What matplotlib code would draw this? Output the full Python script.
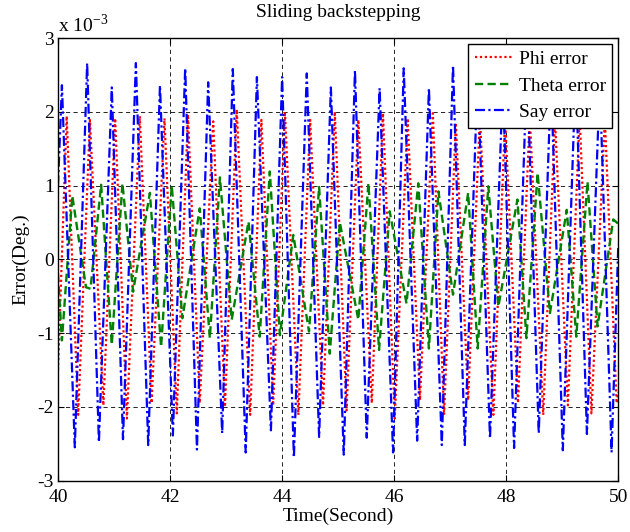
import numpy as np
import matplotlib
matplotlib.use("Agg")
import matplotlib.pyplot as plt
from matplotlib.ticker import FuncFormatter

plt.rcParams['font.family'] = ['Liberation Serif', 'DejaVu Serif']
plt.rcParams['mathtext.fontset'] = 'custom'
plt.rcParams['mathtext.rm'] = 'Liberation Serif'

# Turning points of each error signal (time in s, error in 1e-3 deg)
phi_t = [40.00, 40.155, 40.36, 40.57, 40.81, 41.02, 41.23, 41.46, 41.67, 41.90,
         42.12, 42.32, 42.53, 42.77, 42.98, 43.19, 43.43, 43.63, 43.84, 44.05,
         44.29, 44.50, 44.73, 44.94, 45.15, 45.36, 45.60, 45.80, 46.01, 46.24,
         46.46, 46.69, 46.89, 47.10, 47.32, 47.53, 47.77, 47.98, 48.21, 48.42,
         48.66, 48.87, 49.10, 49.31, 49.52, 49.76, 49.97, 50.00]
phi_v = [-1.50, 1.94, -2.11, 1.89, -1.98, 1.91, -2.16, 1.94, -1.95, 1.91,
         -2.09, 1.96, -1.95, 1.87, -2.00, 2.03, -2.11, 1.89, -1.98, 2.00,
         -2.11, 1.89, -1.98, 2.00, -2.05, 1.89, -1.95, 1.98, -2.16, 1.91,
         -1.91, 1.98, -2.11, 1.85, -1.91, 1.95, -2.11, 1.90, -1.95, 1.95,
         -2.11, 1.90, -1.98, 1.95, -2.09, 1.90, -1.95, -1.80]

theta_t = [40.00, 40.07, 40.255, 40.50, 40.58, 40.77, 40.96, 41.15, 41.34, 41.64,
           41.84, 42.03, 42.22, 42.53, 42.71, 42.89, 43.10, 43.40, 43.60, 43.78,
           43.96, 44.20, 44.48, 44.66, 44.85, 45.03, 45.36, 45.54, 45.73, 45.92,
           46.22, 46.43, 46.62, 46.79, 47.05, 47.32, 47.49, 47.68, 47.86, 48.20,
           48.36, 48.56, 48.78, 49.08, 49.25, 49.45, 49.63, 49.91, 50.00]
theta_v = [-0.20, -1.10, 0.86, -0.38, -0.40, 1.01, -1.16, 1.03, -0.44, 0.90,
           -1.19, 1.00, -0.80, 0.69, -1.07, 1.11, -0.82, 0.51, -1.05, 1.19,
           -1.03, 0.33, -0.98, 0.98, -1.28, 0.50, -0.82, 1.03, -1.23, 0.65,
           -0.60, 1.03, -1.21, 0.92, -0.48, 0.90, -1.21, 0.99, -0.64, 0.81,
           -1.07, 1.17, -0.73, 0.67, -1.05, 1.05, -0.91, 0.54, 0.48]

say_t = [40.00, 40.07, 40.30, 40.52, 40.73, 40.96, 41.16, 41.39, 41.61, 41.82,
         42.05, 42.27, 42.48, 42.68, 42.93, 43.12, 43.35, 43.55, 43.80, 44.00,
         44.21, 44.44, 44.66, 44.87, 45.10, 45.30, 45.51, 45.74, 45.98, 46.17,
         46.41, 46.62, 46.85, 47.05, 47.26, 47.49, 47.71, 47.94, 48.14, 48.37,
         48.58, 48.80, 49.01, 49.24, 49.44, 49.67, 49.88, 50.00]
say_v = [1.00, 2.36, -2.55, 2.66, -2.48, 2.33, -2.44, 2.66, -2.52, 2.36,
         -2.39, 2.59, -2.58, 2.40, -2.36, 2.58, -2.62, 2.47, -2.32, 2.47,
         -2.69, 2.52, -2.41, 2.33, -2.65, 2.56, -2.42, 2.32, -2.62, 2.59,
         -2.46, 2.32, -2.52, 2.63, -2.52, 2.50, -2.43, 2.40, -2.56, 2.60,
         -2.36, 2.45, -2.59, 2.55, -2.37, 2.40, -2.62, 0.20]

x_ticks = [40, 42, 44, 46, 48, 50]
y_ticks = [-3, -2, -1, 0, 1, 2, 3]
scale = 1e-3

fig = plt.figure(figsize=(6.3, 5.32), dpi=100)
ax = fig.add_axes([58 / 630, 1 - 480.5 / 532, (618.3 - 58) / 630, (480.5 - 38) / 532])

fs = 14
ax.plot(phi_t, np.array(phi_v) * scale, color=(1, 0, 0), lw=1.6,
        linestyle=(0, (1, 1.2)), label='Phi error')
ax.plot(theta_t, np.array(theta_v) * scale, color=(0, 0.5, 0), lw=1.7,
        linestyle=(0, (3.5, 1.8)), label='Theta error')
ax.plot(say_t, np.array(say_v) * scale, color=(0, 0, 1), lw=1.6,
        linestyle=(0, (4.5, 1.5, 1, 1.5)), label='Say error')

ax.set_xlim(40, 50)
ax.set_ylim(-3 * scale, 3 * scale)
ax.set_xticks(x_ticks)
ax.set_yticks([v * scale for v in y_ticks])
ax.yaxis.set_major_formatter(FuncFormatter(lambda v, p: f"{v / scale:.0f}"))
ax.tick_params(direction='in', length=4, width=0.8, labelsize=fs,
               top=True, right=True)
ax.tick_params(axis='x', pad=6)
ax.tick_params(axis='y', pad=3)

ax.grid(True, color='k', lw=0.6, linestyle=(0, (5, 4)))
for s in ax.spines.values():
    s.set_linewidth(1.0)
    s.set_color('k')

ax.set_title('Sliding backstepping', fontsize=fs, pad=15)
ax.set_xlabel('Time(Second)', fontsize=fs, labelpad=1)
ax.set_ylabel('Error(Deg.)', fontsize=fs, labelpad=6)
ax.text(0.0, 1.005, r'x 10$^{\mathregular{-3}}$', transform=ax.transAxes,
        fontsize=fs, ha='left', va='bottom')

leg = ax.legend(loc='upper right', fontsize=fs, frameon=True, fancybox=False,
                edgecolor='k', framealpha=1, borderaxespad=0.3, borderpad=0.35,
                labelspacing=0.45, handlelength=1.9, handletextpad=0.35)
leg.get_frame().set_linewidth(1.0)

fig.savefig('out.png', dpi=100, facecolor='white')
